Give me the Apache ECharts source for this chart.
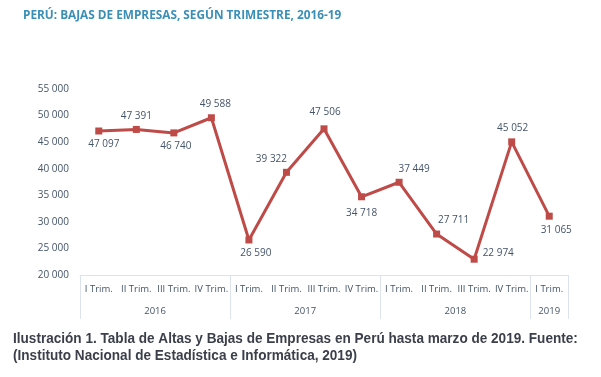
<!DOCTYPE html>
<html>
<head>
<meta charset="utf-8">
<script src="https://cdn.jsdelivr.net/npm/echarts@6/dist/echarts.min.js"></script>
<style>
  html, body { margin: 0; padding: 0; background: #fff; }
  #chart { width: 601px; height: 377px; }
</style>
</head>
<body>
<div id="chart"></div>
<script>
// quarters and yearly groups
const quarters = ['I Trim.', 'II Trim.', 'III Trim.', 'IV Trim.',
  'I Trim.', 'II Trim.', 'III Trim.', 'IV Trim.',
  'I Trim.', 'II Trim.', 'III Trim.', 'IV Trim.', 'I Trim.'];
const years = ['2016', '2017', '2018', '2019'];
const yearStarts = [0, 4, 8, 12, 13];
const bajas = [47097, 47391, 46740, 49588, 26590, 39322, 47506, 34718, 37449, 27711, 22974, 45052, 31065];
const yTicks = [20000, 55000, 5000]; // min, max, step

// where each value label sits (position + small nudge)
const labelPos = ['bottom', 'top', 'bottom', 'top', 'bottom', 'top', 'top', 'bottom', 'top', 'top', 'right', 'top', 'bottom'];
const labelShift = [[5, 0], [0, 0], [2, 0], [4, 0], [7, 0], [-15, 0], [1, -3], [0, 3], [15, 0], [17, 0], [0, -6], [1, 0], [7, 0]];

const fmt = v => String(v).replace(/\B(?=(\d{3})+(?!\d))/g, ' ');
const slate = '#44546A';
const border = '#DCE3EE';

const chart = echarts.init(document.getElementById('chart'));
chart.setOption({
  animation: false,
  title: {
    text: 'PERÚ: BAJAS DE EMPRESAS, SEGÚN TRIMESTRE, 2016-19',
    left: 18, top: 5,
    textStyle: { fontFamily: 'Open Sans', fontSize: 11.8, fontWeight: 'bold', color: '#3A8FB7' }
  },
  grid: { left: 80, right: 33, top: 89, bottom: 102 },
  xAxis: [
    {
      type: 'category',
      data: quarters,
      boundaryGap: true,
      axisLine: { lineStyle: { color: border } },
      axisTick: { length: 21, lineStyle: { color: border } },
      axisLabel: { color: slate, fontSize: 9.5, fontFamily: 'Open Sans', margin: 9, interval: 0 }
    },
    {
      type: 'value',
      min: 0, max: quarters.length,
      position: 'bottom',
      splitLine: { show: false },
      axisLine: { show: false },
      axisTick: { show: true, length: 44, customValues: yearStarts, lineStyle: { color: border } },
      axisLabel: {
        show: true,
        customValues: years.map((y, i) => (yearStarts[i] + yearStarts[i + 1]) / 2),
        formatter: v => years[yearStarts.findIndex((s, i) => v > s && v < yearStarts[i + 1])],
        color: slate, fontSize: 9.5, fontFamily: 'Open Sans', margin: 31
      }
    }
  ],
  yAxis: {
    type: 'value',
    min: yTicks[0], max: yTicks[1], interval: yTicks[2],
    splitLine: { show: false },
    axisLine: { show: false },
    axisTick: { show: false },
    axisLabel: { color: slate, fontSize: 10, fontFamily: 'Open Sans', margin: 11, formatter: fmt }
  },
  series: [{
    type: 'line',
    xAxisIndex: 0,
    data: bajas.map((v, i) => ({ value: v, label: { position: labelPos[i], offset: labelShift[i] } })),
    symbol: 'rect',
    symbolSize: 7,
    lineStyle: { color: '#BE4B48', width: 3 },
    itemStyle: { color: '#BE4B48' },
    label: {
      show: true,
      color: slate, fontSize: 10, fontFamily: 'Open Sans',
      distance: 5,
      formatter: p => fmt(p.value)
    }
  }],
  graphic: [{
    type: 'text', x: 13, y: 330, scaleX: 0.905,
    style: {
      text: 'Ilustración 1. Tabla de Altas y Bajas de Empresas en Perú hasta marzo de 2019. Fuente:\n(Instituto Nacional de Estadística e Informática, 2019)',
      font: 'bold 15px "Liberation Sans", Arial',
      lineHeight: 17,
      verticalAlign: 'top',
      fill: '#3A3F4A'
    }
  }]
});
</script>
</body>
</html>
